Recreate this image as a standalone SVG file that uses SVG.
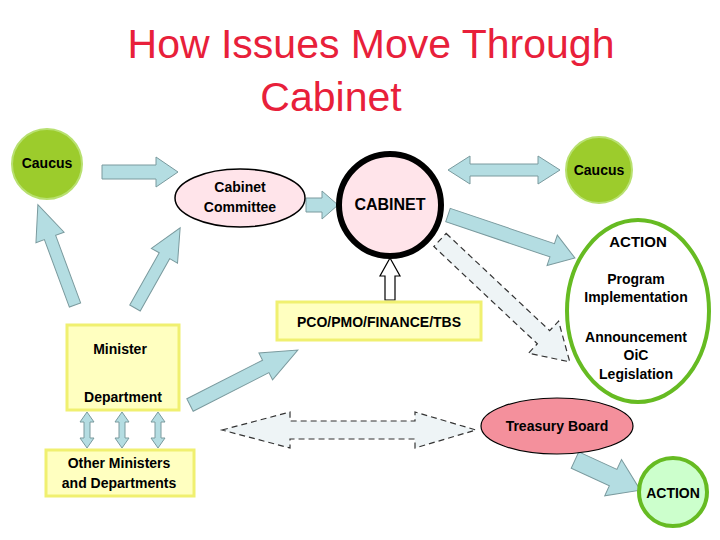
<svg xmlns="http://www.w3.org/2000/svg" width="720" height="540" viewBox="0 0 720 540">
<style>
text{font-family:"Liberation Sans",Arial,sans-serif;text-anchor:middle;fill:#000}
.t{font-size:14px;font-weight:bold}
.arr{fill:#b4dde2;stroke:#7a9a9e;stroke-width:1}
.dash{fill:#eef4f6;stroke:#333;stroke-width:1.2;stroke-dasharray:6,4}
.box{fill:#ffffc0;stroke:#f0f070;stroke-width:3}
</style>
<rect width="720" height="540" fill="#fff"/>
<text x="371" y="58" style="font-size:41px;fill:#e8203a">How Issues Move Through</text>
<text x="331" y="111" style="font-size:41px;fill:#e8203a">Cabinet</text>
<g id="connectors">
<path class="arr" transform="translate(102,172)" d="M0,-7H54V-15L76,0L54,15V7H0Z"/>
<path class="arr" transform="translate(306,205)" d="M0,-7H16V-14L32,0L16,14V7H0Z"/>
<path class="arr" transform="translate(448,170)" d="M0,0L22,-14V-6H90V-14L112,0L90,14V6H22V14Z"/>
<path class="arr" transform="translate(448,215) rotate(18.7)" d="M0,-7H110V-16L134,0L110,16V7H0Z"/>
<path class="dash" transform="translate(440,240) rotate(43.2)" d="M0,-9H142V-22L178,0L142,22V9H0Z"/>
<path class="arr" transform="translate(75,305) rotate(-110.3)" d="M0,-6H72V-15L107,0L72,15V6H0Z"/>
<path class="arr" transform="translate(135,308) rotate(-60.6)" d="M0,-6H60V-15L92,0L60,15V6H0Z"/>
<path class="arr" transform="translate(190,405) rotate(-27)" d="M0,-7H85V-15L121,0L85,15V7H0Z"/>
<path transform="translate(390,300) rotate(-90)" d="M0,-5H24V-10L42,0L24,10V5H0Z" fill="#fff" stroke="#000" stroke-width="1.2"/>
<path class="dash" d="M222,430L290,412V421H415V412L476,430L415,448V439H290V448Z"/>
<path class="arr" transform="translate(575,460) rotate(24.8)" d="M0,-9H42V-20L72,0L42,20V9H0Z"/>
<path class="arr" d="M87,412L80,422H84V438H80L87,448L94,438H90V422H94Z"/>
<path class="arr" d="M122,412L115,422H119V438H115L122,448L129,438H125V422H129Z"/>
<path class="arr" d="M158,412L151,422H155V438H151L158,448L165,438H161V422H165Z"/>
</g>
<g id="caucus-left"><circle cx="47" cy="164" r="35" fill="#9ccc2c" stroke="#b8e070" stroke-width="2"/><text class="t" x="47" y="168">Caucus</text></g>
<g id="caucus-right"><circle cx="599" cy="170" r="33" fill="#9ccc2c" stroke="#b8e070" stroke-width="2"/><text class="t" x="599" y="175">Caucus</text></g>
<g id="cabinet-committee"><ellipse cx="240" cy="198" rx="65" ry="29" fill="#ffe4ea" stroke="#000" stroke-width="1.5"/><text class="t" x="240" y="192">Cabinet</text><text class="t" x="240" y="212">Committee</text></g>
<g id="cabinet"><circle cx="390" cy="205" r="51" fill="#ffe4ea" stroke="#000" stroke-width="6"/><text class="t" x="390" y="210" style="font-size:16px">CABINET</text></g>
<g id="action"><ellipse cx="638" cy="311" rx="71" ry="91" fill="#fff" stroke="#66bb22" stroke-width="4"/>
<text class="t" x="638" y="247" style="font-size:15px">ACTION</text>
<text class="t" x="636" y="284">Program</text><text class="t" x="636" y="302">Implementation</text>
<text class="t" x="636" y="342">Announcement</text><text class="t" x="636" y="360">OiC</text><text class="t" x="636" y="379">Legislation</text></g>
<g id="pco"><rect class="box" x="277" y="302" width="204" height="38"/><text class="t" x="379" y="327">PCO/PMO/FINANCE/TBS</text></g>
<g id="minister"><rect class="box" x="67" y="325" width="112" height="85" stroke-width="2"/><text class="t" x="120" y="354">Minister</text><text class="t" x="123" y="402">Department</text></g>
<g id="other"><rect class="box" x="46" y="450" width="148" height="46" stroke-width="2"/><text class="t" x="119" y="468">Other Ministers</text><text class="t" x="119" y="488">and Departments</text></g>
<g id="treasury"><ellipse cx="557" cy="426" rx="76" ry="28" fill="#f4909c" stroke="#000" stroke-width="1.2"/><text class="t" x="557" y="431">Treasury Board</text></g>
<g id="action2"><circle cx="673" cy="492" r="34" fill="#ccffcc" stroke="#66bb22" stroke-width="4"/><text class="t" x="673" y="498">ACTION</text></g>
</svg>
